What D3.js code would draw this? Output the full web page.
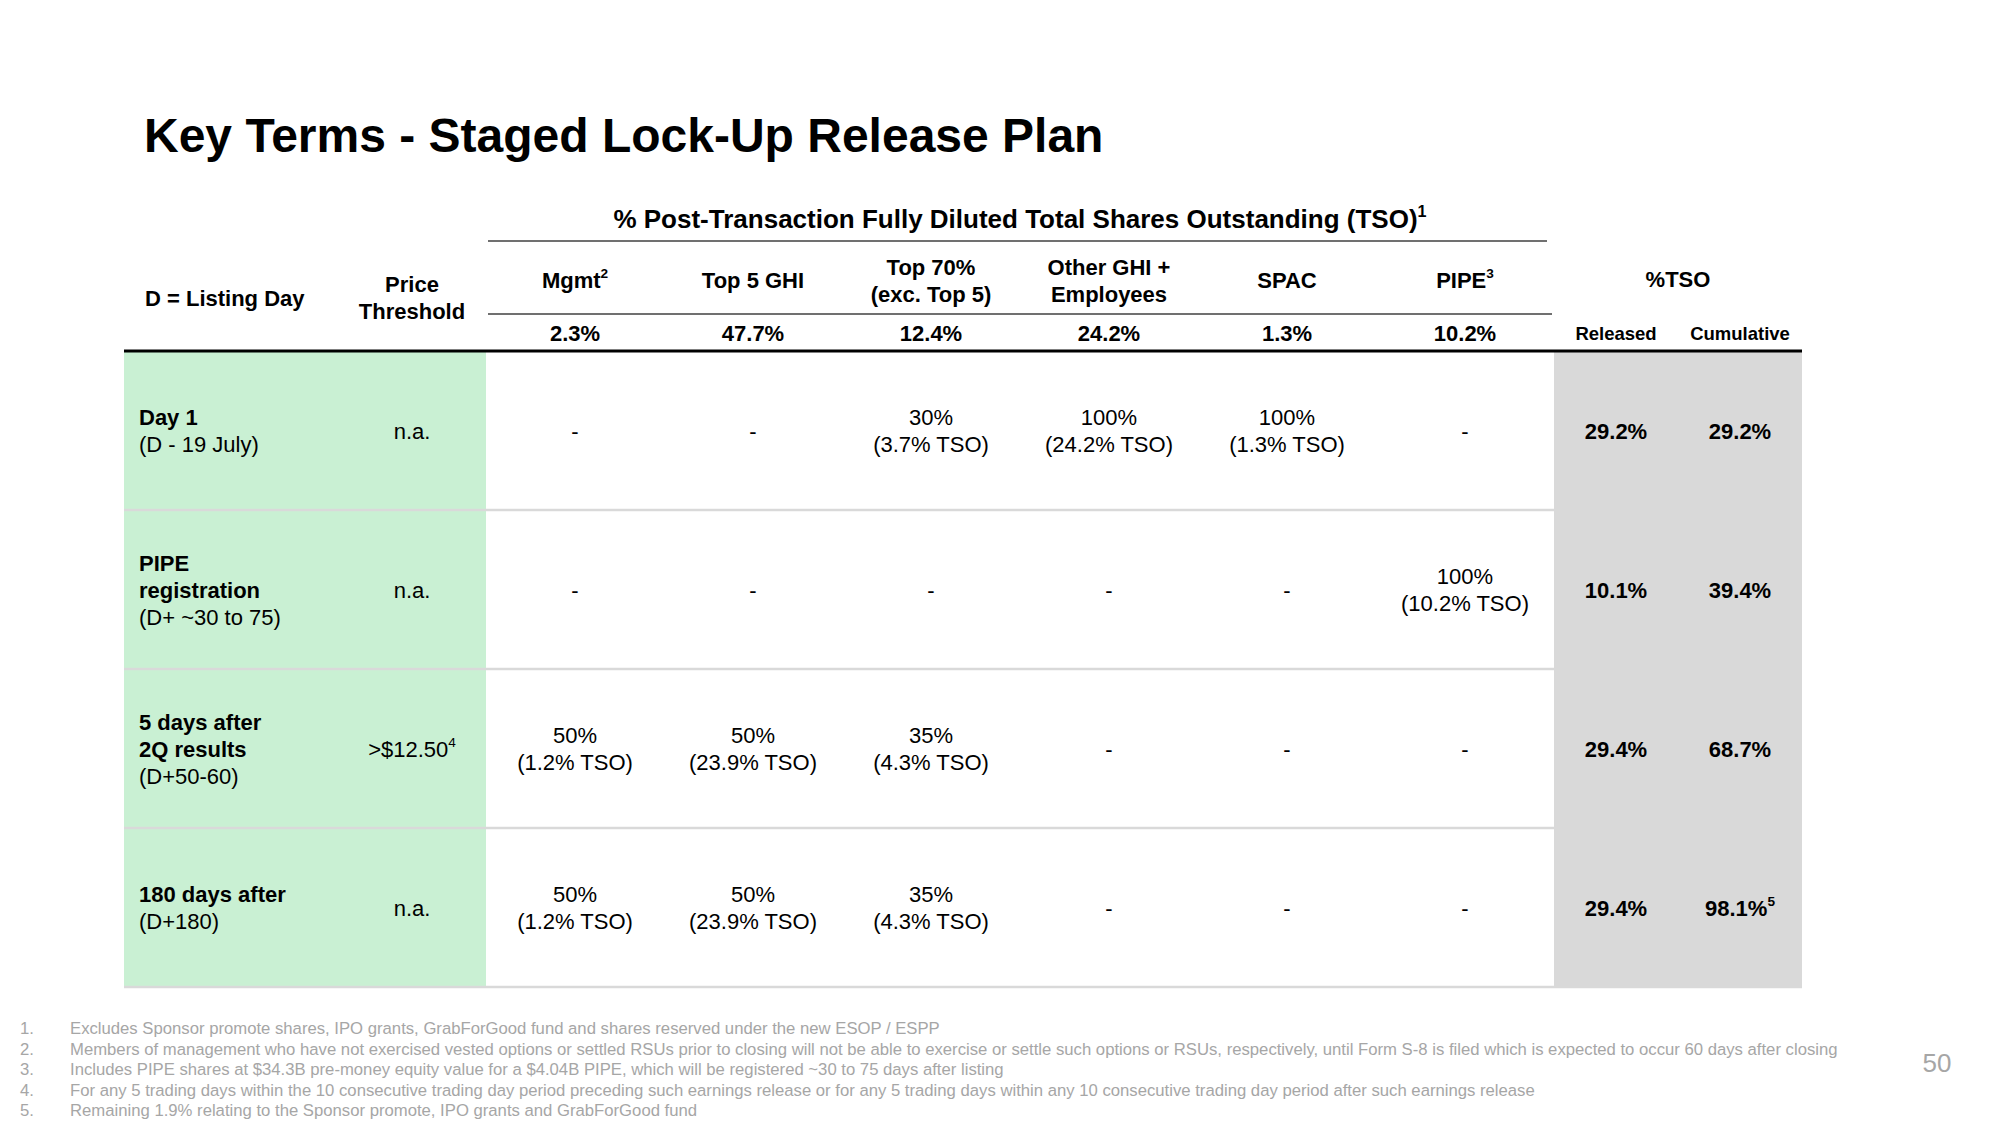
<!DOCTYPE html>
<html><head><meta charset="utf-8">
<script src="https://cdn.jsdelivr.net/npm/d3@7"></script>
<style>
html,body{margin:0;padding:0;background:#fff;}
svg{display:block;font-family:"Liberation Sans",Arial,sans-serif;}
</style></head>
<body>
<script>
// ---------- data ----------
const title = "Key Terms - Staged Lock-Up Release Plan";
const groupTitle = "% Post-Transaction Fully Diluted Total Shares Outstanding (TSO)^1";
const groups = ["Mgmt", "Top 5 GHI", "Top 70%", "Other GHI", "SPAC", "PIPE"];
const groupHeaders = [["Mgmt^2"], ["Top 5 GHI"], ["Top 70%", "(exc. Top 5)"], ["Other GHI +", "Employees"], ["SPAC"], ["PIPE^3"]];
const groupShares = [2.3, 47.7, 12.4, 24.2, 1.3, 10.2];
const stageTitles = [["Day 1"], ["PIPE", "registration"], ["5 days after", "2Q results"], ["180 days after"]];
const stageSubtitles = ["(D - 19 July)", "(D+ ~30 to 75)", "(D+50-60)", "(D+180)"];
const priceThresholds = ["n.a.", "n.a.", ">$12.50^4", "n.a."];
// % of each group released at each stage (null = "-")
const releasePct = [
  [null, null, 30, 100, 100, null],
  [null, null, null, null, null, 100],
  [50, 50, 35, null, null, null],
  [50, 50, 35, null, null, null]
];
// same release as % of TSO
const releaseTSO = [
  [null, null, 3.7, 24.2, 1.3, null],
  [null, null, null, null, null, 10.2],
  [1.2, 23.9, 4.3, null, null, null],
  [1.2, 23.9, 4.3, null, null, null]
];
const totalCols = ["Released", "Cumulative"];
const released = [29.2, 10.1, 29.4, 29.4];
const cumulative = [29.2, 39.4, 68.7, 98.1];
const cumulativeNotes = ["", "", "", "5"];
const footnotes = [
  "Excludes Sponsor promote shares, IPO grants, GrabForGood fund and shares reserved under the new ESOP / ESPP",
  "Members of management who have not exercised vested options or settled RSUs prior to closing will not be able to exercise or settle such options or RSUs, respectively, until Form S-8 is filed which is expected to occur 60 days after closing",
  "Includes PIPE shares at $34.3B pre-money equity value for a $4.04B PIPE, which will be registered ~30 to 75 days after listing",
  "For any 5 trading days within the 10 consecutive trading day period preceding such earnings release or for any 5 trading days within any 10 consecutive trading day period after such earnings release",
  "Remaining 1.9% relating to the Sponsor promote, IPO grants and GrabForGood fund"
];
const pageNumber = "50";

// ---------- layout ----------
const W = 2000, H = 1125;
const tableLeft = 124, tableRight = 1802;
const greenRight = 486, grayLeft = 1554;
const headerBottom = 351, tableBottom = 987;
const LH = 27;
const GREEN = "#c9f0d3", GRAY = "#d9d9d9", SEP = "#d9d9d9";
const fmtP = d => d3.format(".1f")(d) + "%";

const svg = d3.select("body").append("svg").attr("width", W).attr("height", H);

const x = d3.scaleBand().domain(groups).range([greenRight, grayLeft]);
const xt = d3.scaleBand().domain(totalCols).range([grayLeft, tableRight]);
const y = d3.scaleBand().domain(d3.range(stageTitles.length)).range([headerBottom, tableBottom]);

// text helper with ^ superscript support
function addText(g, str, px, py, opts = {}) {
  const size = opts.size || 22;
  const t = g.append("text").attr("x", px).attr("y", py)
    .attr("text-anchor", opts.anchor || "middle")
    .attr("dominant-baseline", "central")
    .attr("font-size", size)
    .attr("font-weight", opts.bold ? "bold" : "normal")
    .attr("fill", opts.fill || "#000");
  const parts = str.split("^");
  t.append("tspan").text(parts[0]);
  if (parts[1]) {
    t.append("tspan").attr("font-size", size * 0.62).attr("dy", -size * 0.3).text(parts[1]);
  }
  return t;
}
function addLines(g, lines, px, cy, opts) {
  const n = lines.length;
  lines.forEach((l, i) => addText(g, l, px, cy + (i - (n - 1) / 2) * LH, opts));
}

// backgrounds
svg.append("rect").attr("x", tableLeft).attr("y", headerBottom).attr("width", greenRight - tableLeft)
  .attr("height", tableBottom - headerBottom).attr("fill", GREEN);
svg.append("rect").attr("x", grayLeft).attr("y", headerBottom).attr("width", tableRight - grayLeft)
  .attr("height", tableBottom - headerBottom).attr("fill", GRAY);

// row separators
svg.append("g").selectAll("line").data(d3.range(stageTitles.length)).join("line")
  .attr("x1", tableLeft).attr("x2", tableRight)
  .attr("y1", d => y(d) + y.bandwidth()).attr("y2", d => y(d) + y.bandwidth())
  .attr("stroke", SEP).attr("stroke-width", 2.5);

// header rules
svg.append("line").attr("x1", greenRight + 2).attr("x2", grayLeft - 7).attr("y1", 241).attr("y2", 241)
  .attr("stroke", "#404040").attr("stroke-width", 1.5);
svg.append("line").attr("x1", greenRight + 2).attr("x2", grayLeft - 2).attr("y1", 314).attr("y2", 314)
  .attr("stroke", "#404040").attr("stroke-width", 1.5);
svg.append("line").attr("x1", tableLeft).attr("x2", tableRight).attr("y1", headerBottom).attr("y2", headerBottom)
  .attr("stroke", "#000").attr("stroke-width", 3);

// title
svg.append("text").attr("x", 144).attr("y", 152).attr("font-size", 48).attr("font-weight", "bold")
  .attr("letter-spacing", 0).text(title);

const hdr = svg.append("g");
addText(hdr, groupTitle, (greenRight + grayLeft) / 2, 219, { size: 26, bold: true });
addText(hdr, "D = Listing Day", 145, 298, { anchor: "start", bold: true });
addLines(hdr, ["Price", "Threshold"], 412, 297.5, { bold: true });
groupHeaders.forEach((h, i) => addLines(hdr, h, x(groups[i]) + x.bandwidth() / 2, 280, { bold: true }));
groupShares.forEach((v, i) => addText(hdr, fmtP(v), x(groups[i]) + x.bandwidth() / 2, 333, { bold: true }));
addText(hdr, "%TSO", grayLeft + (tableRight - grayLeft) / 2, 279, { bold: true });
totalCols.forEach(c => addText(hdr, c, xt(c) + xt.bandwidth() / 2, 333, { bold: true, size: 18.5 }));

// body
const body = svg.append("g");
stageTitles.forEach((st, r) => {
  const cy = y(r) + y.bandwidth() / 2;
  const lines = st.length + 1;
  st.forEach((l, i) => addText(body, l, 139, cy + (i - (lines - 1) / 2) * LH, { anchor: "start", bold: true }));
  addText(body, stageSubtitles[r], 139, cy + (st.length - (lines - 1) / 2) * LH, { anchor: "start" });
  addText(body, priceThresholds[r], 412, cy);
  groups.forEach((gname, c) => {
    const cx = x(gname) + x.bandwidth() / 2;
    const p = releasePct[r][c];
    if (p == null) addText(body, "-", cx, cy);
    else addLines(body, [p + "%", "(" + fmtP(releaseTSO[r][c]) + " TSO)"], cx, cy, {});
  });
  addText(body, fmtP(released[r]), xt("Released") + xt.bandwidth() / 2, cy, { bold: true });
  addText(body, fmtP(cumulative[r]) + (cumulativeNotes[r] ? "^" + cumulativeNotes[r] : ""),
    xt("Cumulative") + xt.bandwidth() / 2, cy, { bold: true });
});

// footnotes
const fn = svg.append("g");
footnotes.forEach((f, i) => {
  const fy = 1028 + i * 20.5;
  addText(fn, (i + 1) + ".", 20, fy, { anchor: "start", size: 16.7, fill: "#a6a6a6" });
  addText(fn, f, 70, fy, { anchor: "start", size: 16.7, fill: "#a6a6a6" });
});
addText(svg, pageNumber, 1937, 1063, { size: 26, fill: "#a6a6a6" });
</script>
</body></html>
